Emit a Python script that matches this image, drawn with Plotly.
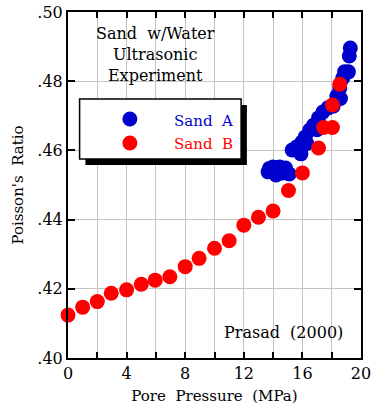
import plotly.graph_objects as go

# Sand B (red) : pore pressure (MPa) vs Poisson's ratio
sand_b_p = [0.0, 1.0, 2.0, 2.95, 4.0, 5.0, 5.95, 6.95, 8.0, 8.95, 10.0, 11.0,
            12.0, 13.0, 14.0, 15.05, 16.0, 17.1, 17.45, 18.05, 18.05, 18.55]
sand_b_nu = [0.4124, 0.4147, 0.4163, 0.4187, 0.4197, 0.4213, 0.4225, 0.4235,
             0.4264, 0.4288, 0.4317, 0.4339, 0.4384, 0.4407, 0.4425, 0.4484,
             0.4535, 0.4607, 0.4666, 0.4666, 0.4731, 0.4791]

# Sand A (blue)
sand_a_p = [13.66, 13.99, 14.46, 14.85, 15.1, 15.3, 15.6, 15.97, 16.2, 16.5,
            16.77, 17.1, 17.4, 17.75, 18.1, 18.35, 18.55, 18.75, 18.88, 19.14,
            19.2, 19.27, 15.9, 16.3, 17.0, 18.6, 14.2, 14.65, 13.75]
sand_a_nu = [0.4538, 0.4552, 0.4552, 0.4549, 0.4532, 0.4601, 0.4610, 0.4624,
             0.4639, 0.4659, 0.4673, 0.4694, 0.4711, 0.4723, 0.4728, 0.4757,
             0.4780, 0.4809, 0.4827, 0.4827, 0.4873, 0.4896, 0.4590, 0.4620,
             0.4660, 0.4750, 0.4529, 0.4535, 0.4548]

x_ticks = [0, 4, 8, 12, 16, 20]
y_ticks = [0.40, 0.42, 0.44, 0.46, 0.48, 0.50]
y_tick_text = [".40", ".42", ".44", ".46", ".48", ".50"]

FONT = "DejaVu Serif"
BLUE = "#0000cc"
RED = "#ff0000"

fig = go.Figure()
fig.add_trace(go.Scatter(x=sand_a_p, y=sand_a_nu, mode="markers", name="Sand A",
                         marker=dict(color=BLUE, size=15), cliponaxis=False))
fig.add_trace(go.Scatter(x=sand_b_p, y=sand_b_nu, mode="markers", name="Sand B",
                         marker=dict(color=RED, size=15), cliponaxis=False))

axis_common = dict(
    showline=True, linecolor="black", linewidth=2, mirror="allticks",
    ticks="inside", tickcolor="black", tickwidth=1.5,
    showgrid=True, gridcolor="#c4c4c4", gridwidth=1, zeroline=False,
    tickfont=dict(family=FONT, size=16, color="black"),
    ticklabeloverflow="allow",
)

fig.update_layout(
    width=374, height=409,
    margin=dict(l=68, r=3, t=12, b=51),
    paper_bgcolor="white", plot_bgcolor="white",
    showlegend=False,
    font=dict(family=FONT, size=16, color="black"),
    xaxis=dict(range=[0, 20], tickvals=x_ticks, ticklen=6,
               minor=dict(dtick=2, ticks="inside", ticklen=6, tickcolor="black",
                          showgrid=True, gridcolor="#c4c4c4", gridwidth=1),
               title=dict(text="Pore  Pressure  (MPa)", font=dict(size=15), standoff=8),
               **axis_common),
    yaxis=dict(range=[0.40, 0.50], tickvals=y_ticks, ticktext=y_tick_text, ticklen=7,
               title=dict(text="Poisson's  Ratio", font=dict(size=15), standoff=10),
               **axis_common),
)

# legend box with drop shadow
fig.add_shape(type="rect", xref="paper", yref="paper",
              x0=0.0594, x1=0.6106, y0=0.5578, y1=0.7312,
              fillcolor="black", line=dict(width=0), layer="above")
fig.add_shape(type="rect", xref="paper", yref="paper",
              x0=0.0396, x1=0.5908, y0=0.5751, y1=0.7486,
              fillcolor="white", line=dict(color="black", width=1.5), layer="above")
for yc, col in [(0.6908, BLUE), (0.6214, RED)]:
    fig.add_shape(type="circle", xref="paper", yref="paper",
                  xsizemode="pixel", ysizemode="pixel",
                  xanchor=0.2112, yanchor=yc, x0=-7.5, x1=7.5, y0=-7.5, y1=7.5,
                  fillcolor=col, line=dict(width=0), layer="above")
fig.add_annotation(text="Sand  A", xref="paper", yref="paper", x=0.3564, y=0.685,
                   xanchor="left", yanchor="middle", showarrow=False,
                   font=dict(family=FONT, size=15, color=BLUE))
fig.add_annotation(text="Sand  B", xref="paper", yref="paper", x=0.3564, y=0.6185,
                   xanchor="left", yanchor="middle", showarrow=False,
                   font=dict(family=FONT, size=15, color=RED))

fig.add_annotation(text="Sand  w/Water<br>Ultrasonic<br>Experiment",
                   xref="paper", yref="paper", x=0.297, y=0.876,
                   xanchor="center", yanchor="middle", align="center", showarrow=False,
                   font=dict(family=FONT, size=16, color="black"))
fig.add_annotation(text="Prasad  (2000)", xref="paper", yref="paper", x=0.736, y=0.075,
                   xanchor="center", yanchor="middle", showarrow=False,
                   font=dict(family=FONT, size=16, color="black"))

fig.write_html("out.html")
